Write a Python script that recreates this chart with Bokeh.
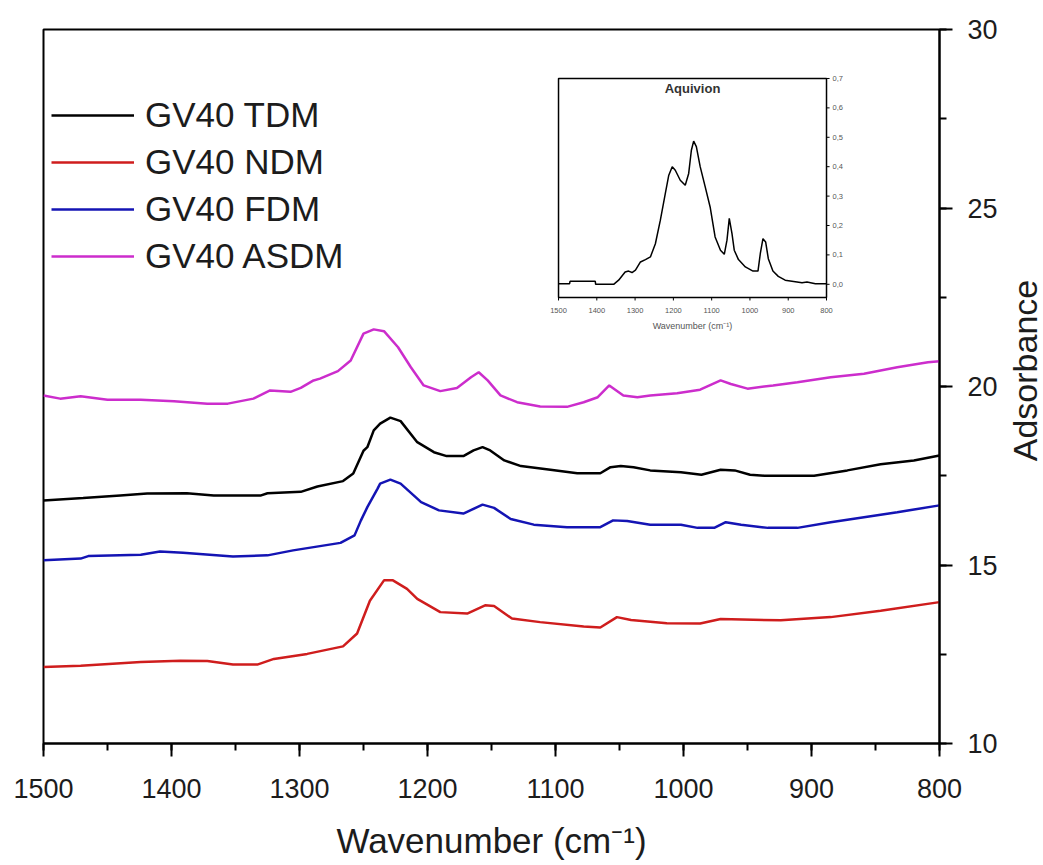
import math
from bokeh.plotting import figure
from bokeh.layouts import row
from bokeh.models import Range1d, SingleIntervalTicker, Legend, LegendItem
from bokeh.embed import file_html
from bokeh.resources import INLINE
from bokeh.core.properties import value

# ---------------- data ----------------
tdm_x = [1500, 1469, 1440, 1419, 1388, 1367, 1330, 1325, 1299, 1286, 1266, 1258, 1250, 1247, 1242, 1237,
         1229, 1221, 1208, 1195, 1185, 1172, 1164, 1157, 1151, 1140, 1127, 1104, 1083, 1065, 1057, 1049,
         1039, 1026, 1002, 986, 971, 960, 948, 937, 898, 872, 846, 820, 800]
tdm_y = [16.81, 16.88, 16.95, 17.0, 17.01, 16.95, 16.95, 17.01, 17.05, 17.2, 17.35, 17.56, 18.2, 18.3, 18.77, 18.96,
         19.13, 19.03, 18.44, 18.16, 18.05, 18.05, 18.21, 18.3, 18.21, 17.93, 17.77, 17.67, 17.57, 17.57, 17.74, 17.77,
         17.74, 17.65, 17.6, 17.53, 17.67, 17.65, 17.53, 17.5, 17.5, 17.65, 17.82, 17.93, 18.07]

ndm_x = [1500, 1471, 1424, 1393, 1372, 1352, 1333, 1320, 1294, 1266, 1255, 1245, 1234, 1227, 1216, 1208, 1190,
         1169, 1155, 1148, 1134, 1112, 1078, 1065, 1052, 1041, 1013, 987, 971, 924, 885, 846, 800]
ndm_y = [12.14, 12.18, 12.28, 12.32, 12.31, 12.21, 12.21, 12.37, 12.51, 12.72, 13.08, 14.0, 14.57, 14.57, 14.33, 14.05, 13.68,
         13.64, 13.87, 13.85, 13.5, 13.4, 13.28, 13.25, 13.54, 13.46, 13.37, 13.36, 13.49, 13.45, 13.54, 13.72, 13.96]

fdm_x = [1500, 1471, 1465, 1424, 1409, 1391, 1352, 1325, 1305, 1268, 1257, 1252, 1247, 1239, 1237, 1229, 1221, 1208,
         1205, 1191, 1172, 1157, 1148, 1135, 1117, 1091, 1065, 1055, 1044, 1026, 1002, 989, 976, 967, 955, 934, 911,
         885, 859, 833, 800]
fdm_y = [15.13, 15.18, 15.25, 15.29, 15.38, 15.34, 15.24, 15.27, 15.41, 15.62, 15.83, 16.25, 16.62, 17.14, 17.28, 17.39, 17.28, 16.86,
         16.76, 16.53, 16.44, 16.69, 16.6, 16.29, 16.13, 16.06, 16.06, 16.25, 16.23, 16.13, 16.13, 16.04, 16.04, 16.2, 16.13, 16.04, 16.04,
         16.2, 16.34, 16.48, 16.67]

asdm_x = [1500, 1487, 1471, 1450, 1424, 1398, 1372, 1356, 1336, 1323, 1307, 1299, 1289, 1284, 1270, 1260, 1250, 1242,
          1234, 1223, 1213, 1203, 1190, 1177, 1166, 1160, 1153, 1143, 1130, 1112, 1091, 1078, 1067, 1058, 1047, 1036,
          1026, 1005, 987, 971, 963, 950, 930, 911, 885, 859, 833, 809, 800]
asdm_y = [19.75, 19.66, 19.73, 19.63, 19.63, 19.59, 19.52, 19.52, 19.66, 19.89, 19.85, 19.96, 20.17, 20.22, 20.43, 20.73, 21.48, 21.6,
          21.55, 21.1, 20.54, 20.03, 19.87, 19.96, 20.26, 20.4, 20.17, 19.75, 19.56, 19.44, 19.43, 19.56, 19.7, 20.03, 19.75, 19.7,
          19.75, 19.81, 19.91, 20.17, 20.07, 19.94, 20.03, 20.12, 20.26, 20.36, 20.54, 20.68, 20.71]

series_labels = ["GV40 TDM", "GV40 NDM", "GV40 FDM", "GV40 ASDM"]
series_colors = ["#000000", "#cf1d1d", "#1414b4", "#cc2dcc"]

# inset (Aquivion reference spectrum)
aq_x = [1500, 1471, 1470, 1404, 1403, 1356, 1343, 1326, 1317, 1308, 1299, 1286, 1273, 1260, 1247, 1234, 1221, 1212,
        1203, 1195, 1182, 1169, 1160, 1153, 1147, 1140, 1130, 1117, 1104, 1091, 1077, 1067, 1060, 1054, 1047, 1041,
        1030, 1012, 992, 979, 973, 966, 959, 952, 940, 926, 908, 877, 864, 851, 829, 800]
aq_y = [0.002, 0.002, 0.01, 0.01, 0.0, 0.0, 0.014, 0.042, 0.045, 0.04, 0.048, 0.076, 0.084, 0.093, 0.138, 0.218, 0.309, 0.371,
        0.40, 0.388, 0.354, 0.337, 0.377, 0.456, 0.487, 0.468, 0.40, 0.332, 0.263, 0.161, 0.116, 0.102, 0.15, 0.224, 0.173, 0.116,
        0.084, 0.059, 0.045, 0.045, 0.104, 0.155, 0.144, 0.087, 0.045, 0.027, 0.014, 0.008, 0.005, 0.008, 0.002, 0.002]
aq_xticks = [1500, 1400, 1300, 1200, 1100, 1000, 900, 800]
aq_xlabels = ["1500", "1400", "1300", "1200", "1100", "1000", "900", "800"]
aq_yticks = [0.0, 0.1, 0.2, 0.3, 0.4, 0.5, 0.6, 0.7]
aq_ylabels = ["0,0", "0,1", "0,2", "0,3", "0,4", "0,5", "0,6", "0,7"]

x_title = "Wavenumber (cm\u207b\u00b9)"
y_title = "Adsorbance"

FONT = "Liberation Sans"
TXT = "#1c1c1c"

# ---------------- main figure ----------------
x_rng = Range1d(1500, 800)
y_rng = Range1d(10, 30)
p = figure(frame_width=896, frame_height=714, x_range=x_rng, y_range=y_rng,
           y_axis_location="right", output_backend="svg", toolbar_location=None,
           min_border_left=43, min_border_top=29, min_border_right=58, min_border_bottom=0,
           background_fill_color="white", border_fill_color="white")
p.grid.visible = False
p.outline_line_color = "black"
p.outline_line_width = 2
p.outline_line_alpha = 1

xa = p.xaxis[0]
xa.ticker = SingleIntervalTicker(interval=100, num_minor_ticks=2)
xa.axis_label = x_title
ya = p.yaxis[0]
ya.ticker = SingleIntervalTicker(interval=5, num_minor_ticks=2)
for ax in (xa, ya):
    ax.axis_line_width = 2
    ax.major_tick_line_width = 2
    ax.minor_tick_line_width = 2
    ax.major_tick_out = 13
    ax.major_tick_in = 0
    ax.minor_tick_out = 7
    ax.minor_tick_in = 0
    ax.major_label_text_font = FONT
    ax.major_label_text_font_size = "27px"
    ax.major_label_text_color = TXT
    ax.axis_label_text_font = FONT
    ax.axis_label_text_font_size = "35px"
    ax.axis_label_text_font_style = "normal"
    ax.axis_label_text_color = TXT
xa.major_label_standoff = 22
xa.axis_label_standoff = 20
ya.major_label_standoff = 15

xs = [tdm_x, ndm_x, fdm_x, asdm_x]
ys = [tdm_y, ndm_y, fdm_y, asdm_y]
renderers = []
for sx, sy, c in zip(xs, ys, series_colors):
    renderers.append(p.line(sx, sy, line_color=c, line_width=2.5))

legend = Legend(items=[LegendItem(label=l, renderers=[r]) for l, r in zip(series_labels, renderers)],
                location=(8, 467), glyph_width=83, glyph_height=40, label_height=40,
                label_standoff=11, spacing=7, padding=0, margin=0,
                border_line_alpha=0, background_fill_alpha=0,
                label_text_font=FONT, label_text_font_size="35px", label_text_color=TXT)
p.add_layout(legend)

# ---------------- inset ----------------
# inset box as fractions of the main frame
fx0, fx1 = 0.5748, 0.8739
fy0, fy1 = 0.6246, 0.9314
xs_src = Range1d(1500, 800)
ys_src = Range1d(-0.045, 0.7)
x_tgt = Range1d(x_rng.start + fx0 * (x_rng.end - x_rng.start), x_rng.start + fx1 * (x_rng.end - x_rng.start))
y_tgt = Range1d(y_rng.start + fy0 * (y_rng.end - y_rng.start), y_rng.start + fy1 * (y_rng.end - y_rng.start))
ins = p.subplot(x_source=xs_src, y_source=ys_src, x_target=x_tgt, y_target=y_tgt)

ins.quad(left=[xs_src.start], right=[xs_src.end], bottom=[ys_src.start], top=[ys_src.end],
         fill_color="white", line_color="black", line_width=1.5)
ins.line(aq_x, aq_y, line_color="black", line_width=1.5)

tick_dy = 0.01
tick_dx = 8
ymin = ys_src.start
xmax_side = xs_src.end
ins.segment(x0=aq_xticks, y0=[ymin] * len(aq_xticks), x1=aq_xticks, y1=[ymin - tick_dy] * len(aq_xticks),
            line_color="black", line_width=1)
ins.segment(x0=[xmax_side] * len(aq_yticks), y0=aq_yticks, x1=[xmax_side - tick_dx] * len(aq_yticks), y1=aq_yticks,
            line_color="black", line_width=1)
ins.text(x=aq_xticks, y=[ymin] * len(aq_xticks), text=aq_xlabels, text_align="center", text_baseline="middle",
         y_offset=13, text_font=value(FONT), text_font_size="7.5px", text_color="#555555")
ins.text(x=[xmax_side] * len(aq_yticks), y=aq_yticks, text=aq_ylabels, text_align="left", text_baseline="middle",
         x_offset=6, text_font=value(FONT), text_font_size="7.5px", text_color="#555555")
xmid = (xs_src.start + xs_src.end) / 2
ins.text(x=[xmid], y=[ys_src.end], text=["Aquivion"], text_align="center", text_baseline="middle",
         y_offset=10, text_font=value(FONT), text_font_size="13px", text_font_style="bold", text_color="#333333")
ins.text(x=[xmid], y=[ymin], text=[x_title], text_align="center", text_baseline="middle",
         y_offset=28, text_font=value(FONT), text_font_size="9px", text_color="#555555")

# ---------------- y-axis title strip (reads bottom to top) ----------------
t = figure(frame_width=44, frame_height=714, x_range=Range1d(0, 1), y_range=y_rng,
           output_backend="svg", toolbar_location=None, x_axis_type=None, y_axis_type=None,
           min_border_left=0, min_border_right=0, min_border_top=29, min_border_bottom=0,
           background_fill_color="white", border_fill_color="white")
t.grid.visible = False
t.outline_line_color = None
t.text(x=[0.5], y=[(y_rng.start + y_rng.end) / 2], text=[y_title], angle=math.pi / 2,
       text_align="center", text_baseline="middle", x_offset=2, y_offset=-16,
       text_font=value(FONT), text_font_size="34px", text_color=TXT)

layout = row(p, t, spacing=0)
open("out.html", "w").write(file_html(layout, INLINE))
